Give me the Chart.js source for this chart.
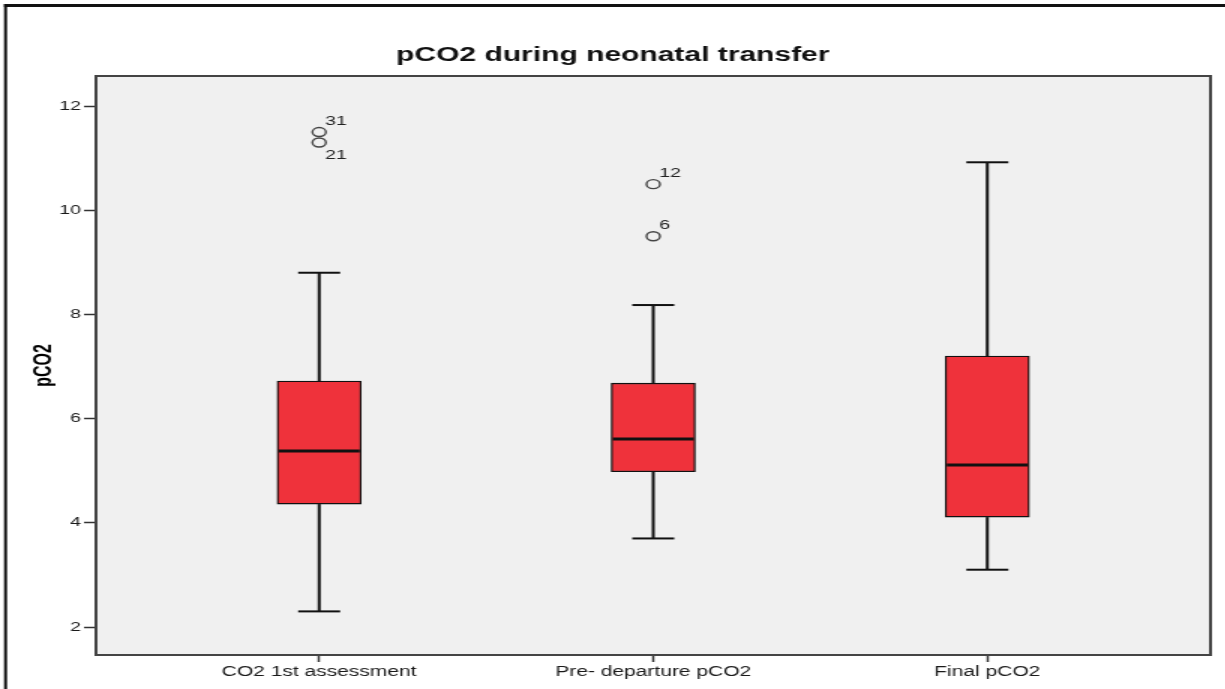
<!DOCTYPE html>
<html>
<head>
<meta charset="utf-8">
<script src="https://cdn.jsdelivr.net/npm/chart.js@4"></script>
<style>
  html, body { margin: 0; padding: 0; background: #fff; overflow: hidden; }
  /* the reference is a horizontally stretched SPSS export, so draw narrow and stretch */
  #wrap { width: 817px; height: 689px; transform: scaleX(1.5); transform-origin: 0 0; }
</style>
</head>
<body>
<div id="wrap"><canvas id="chart"></canvas></div>
<script>
const CATEGORIES = ["CO2 1st assessment", "Pre- departure pCO2", "Final pCO2"];
const WHISKER_LOW = [2.3, 3.7, 3.1];
const Q1 = [4.36, 4.98, 4.11];
const MEDIAN = [5.38, 5.61, 5.11];
const Q3 = [6.72, 6.68, 7.2];
const WHISKER_HIGH = [8.8, 8.18, 10.92];

const OUTLIER_GROUP = [0, 0, 1, 1];
const OUTLIER_VALUE = [11.5, 11.3, 10.5, 9.5];
const OUTLIER_CASE = ["31", "21", "12", "6"];

const Y_TICKS = [2, 4, 6, 8, 10, 12];

const FONT = '"Liberation Sans", Arial, sans-serif';

const boxData = CATEGORIES.map((c, i) => ({ x: i, y: [Q1[i], Q3[i]] }));
const outlierData = OUTLIER_VALUE.map((v, k) => ({ x: OUTLIER_GROUP[k], y: v }));

function line(ctx, x1, y1, x2, y2) {
  ctx.beginPath();
  ctx.moveTo(x1, y1);
  ctx.lineTo(x2, y2);
  ctx.stroke();
}

const boxExtras = {
  id: "boxExtras",
  beforeDraw(chart) {
    const { ctx, chartArea: a } = chart;
    ctx.save();
    ctx.fillStyle = "#f0f0f0";
    ctx.fillRect(a.left, a.top, a.right - a.left, a.bottom - a.top);
    ctx.restore();
  },
  afterDatasetsDraw(chart) {
    const { ctx, scales: { x, y } } = chart;
    const bars = chart.getDatasetMeta(0).data;
    ctx.save();
    ctx.strokeStyle = "#111";
    CATEGORIES.forEach((c, i) => {
      const cx = x.getPixelForValue(i);
      const half = bars[i].width / 2;
      const capHalf = half / 2;
      const yHi = y.getPixelForValue(WHISKER_HIGH[i]);
      const yLo = y.getPixelForValue(WHISKER_LOW[i]);
      ctx.lineWidth = 2;
      line(ctx, cx, y.getPixelForValue(Q3[i]), cx, yHi);
      line(ctx, cx, y.getPixelForValue(Q1[i]), cx, yLo);
      line(ctx, cx - capHalf, yHi, cx + capHalf, yHi);
      line(ctx, cx - capHalf, yLo, cx + capHalf, yLo);
      ctx.lineWidth = 3;
      const ym = y.getPixelForValue(MEDIAN[i]);
      line(ctx, cx - half + 1, ym, cx + half - 1, ym);
    });

    // case numbers next to the outliers
    ctx.fillStyle = "#222";
    ctx.font = "13px " + FONT;
    ctx.textAlign = "left";
    ctx.textBaseline = "middle";
    OUTLIER_VALUE.forEach((v, k) => {
      const g = OUTLIER_GROUP[k];
      const px = x.getPixelForValue(g);
      const py = y.getPixelForValue(v);
      // put the label below if a neighbouring outlier sits just above
      const above = OUTLIER_VALUE.some((w, j) => j !== k && OUTLIER_GROUP[j] === g && w > v && w - v < 0.5);
      ctx.fillText(OUTLIER_CASE[k], px + 4, above ? py + 13 : py - 11);
    });
    ctx.restore();
  },
  afterDraw(chart) {
    const { ctx, chartArea: a } = chart;
    ctx.save();
    ctx.strokeStyle = "#444";
    ctx.lineWidth = 2;
    ctx.strokeRect(a.left, a.top, a.right - a.left, a.bottom - a.top);
    ctx.fillStyle = "#111";
    ctx.fillRect(2.7, 4, chart.width, 3);
    ctx.fillRect(2.7, 4, 2, chart.height);
    ctx.restore();
  },
};

new Chart(document.getElementById("chart"), {
  type: "bar",
  data: {
    datasets: [
      {
        data: boxData,
        backgroundColor: "#ef323b",
        borderColor: "#111",
        borderWidth: 1.3,
        borderSkipped: false,
        barThickness: 56,
        grouped: false,
      },
      {
        type: "scatter",
        data: outlierData,
        pointStyle: "circle",
        pointRadius: 4.5,
        pointBorderWidth: 1.4,
        pointBorderColor: "#444",
        pointBackgroundColor: "rgba(0,0,0,0)",
      },
    ],
  },
  options: {
    responsive: true,
    maintainAspectRatio: false,
    animation: false,
    layout: { padding: { left: 10, right: 10, top: 0, bottom: 0 } },
    scales: {
      x: {
        type: "linear",
        offset: false,
        min: -0.668,
        max: 2.668,
        afterBuildTicks: (s) => { s.ticks = CATEGORIES.map((c, i) => ({ value: i })); },
        afterFit: (s) => { s.height = 34; },
        grid: { offset: false, drawOnChartArea: false, drawTicks: true, tickLength: 7, tickColor: "#333", tickWidth: 1.5 },
        border: { color: "#444", width: 2 },
        ticks: {
          color: "#1a1a1a",
          padding: 2,
          maxRotation: 0,
          autoSkip: false,
          font: { family: FONT, size: 14 },
          callback: (v) => CATEGORIES[v],
        },
      },
      y: {
        min: 1.463,
        max: 12.576,
        afterBuildTicks: (s) => { s.ticks = Y_TICKS.map((v) => ({ value: v })); },
        afterFit: (s) => { s.width = 54; },
        grid: { drawOnChartArea: false, drawTicks: true, tickLength: 8, tickColor: "#333", tickWidth: 1.5 },
        border: { color: "#444", width: 2 },
        ticks: {
          includeBounds: false,
          color: "#1a1a1a",
          padding: 2,
          font: { family: FONT, size: 13 },
        },
        title: {
          display: true,
          text: "pCO2",
          color: "#000",
          padding: { top: 10, bottom: 0 },
          font: { family: FONT, size: 16, weight: "bold" },
        },
      },
    },
    plugins: {
      legend: { display: false },
      tooltip: { enabled: false },
      title: {
        display: true,
        text: "pCO2 during neonatal transfer",
        color: "#111",
        padding: { top: 43, bottom: 9 },
        font: { family: FONT, size: 20, weight: "bold", lineHeight: 1.2 },
      },
    },
  },
  plugins: [boxExtras],
});
</script>
</body>
</html>
